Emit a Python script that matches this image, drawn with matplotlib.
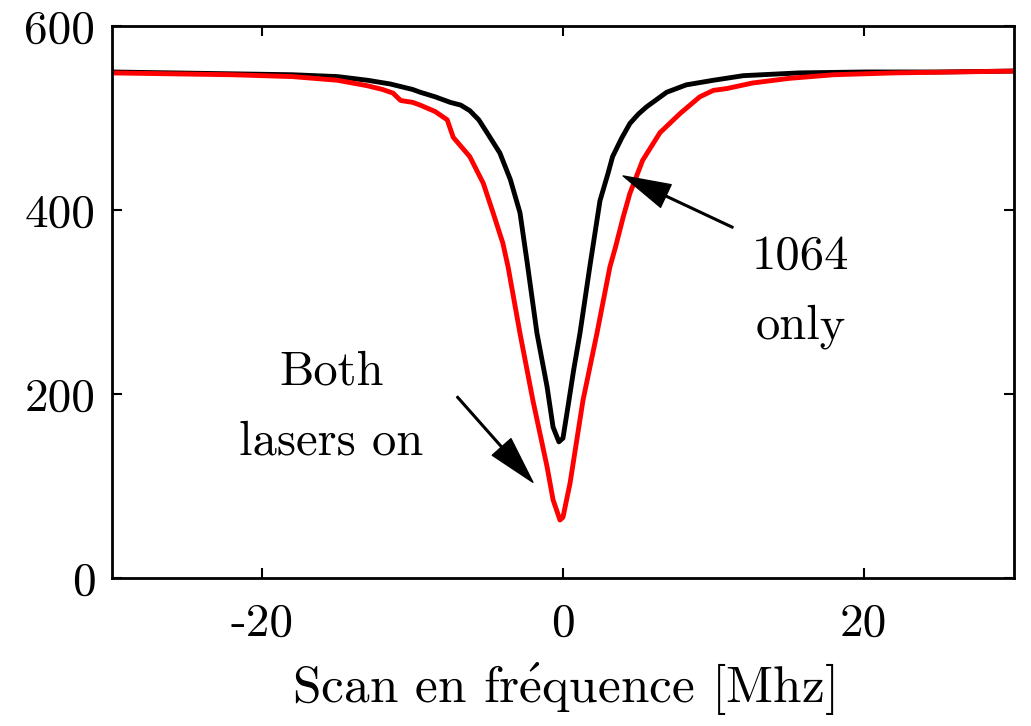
"""Résonance: scan en fréquence, 1064 seul vs deux lasers allumés."""
import matplotlib
matplotlib.use("Agg")
import matplotlib.pyplot as plt

plt.rcParams.update({"font.family": ["cmr10", "DejaVu Serif"], "axes.unicode_minus": False,
                     "mathtext.fontset": "cm"})

# valeurs (MHz, signal)
x_1064 = [-30, -26, -22, -18, -15, -13, -11.5, -10, -9.5, -8.5, -7.5, -6.8, -6.2, -5.6, -5.05,
          -4.2, -3.5, -2.86, -2.4, -1.73, -1.06, -0.66, -0.27, 0.0, 0.33, 0.7, 1.13, 1.8, 2.46,
          3.0, 3.3, 3.9, 4.45, 5.0, 5.55, 6.9, 8.2, 10, 12, 15.7, 20, 25, 30]
y_1064 = [550, 549, 548, 547, 545, 541, 537, 531, 528, 523, 517, 514, 508, 498, 484,
          462, 433, 397, 345, 266, 208, 164, 148, 152, 186, 225, 266, 340, 410,
          440, 458, 478, 494, 504, 512, 528, 536, 541, 546, 549, 550, 550, 551]
x_both = [-30, -26, -22, -18, -15, -13, -12, -11.3, -10.8, -10, -9.5, -8.5, -7.7, -7.3, -6.2,
          -5.3, -4.65, -4.0, -3.65, -2.86, -2.0, -1.06, -0.66, -0.2, 0.0, 0.47, 1.33, 2.26,
          3.12, 3.5, 4.0, 4.45, 5.3, 6.45, 7.8, 9.1, 10, 10.9, 12.6, 15, 18, 22, 26, 30]
y_both = [549, 548, 547, 545, 541, 535, 531, 527, 519, 517, 514, 507, 498, 479, 458,
          429, 397, 364, 338, 266, 193, 121, 85, 63, 66, 103, 193, 266,
          338, 360, 392, 418, 454, 484, 505, 523, 530, 532, 538, 543, 547, 549, 550, 551]
xticks = [-20, 0, 20]
yticks = [0, 200, 400, 600]

fig = plt.figure(figsize=(10.31, 7.26), dpi=100)
ax = fig.add_axes([0.1086, 0.2039, 0.8749, 0.7603])
ax.plot(x_1064, y_1064, color="black", lw=3.5)
ax.plot(x_both, y_both, color="red", lw=3.5)
ax.set_xlim(-30, 30); ax.set_ylim(0, 600)
ax.set_xticks(xticks); ax.set_xticklabels([str(t) for t in xticks])
ax.set_yticks(yticks); ax.set_yticklabels([str(t) for t in yticks])
ax.tick_params(direction="in", length=7, width=1.5, labelsize=34, top=True, right=True, pad=12)
ax.tick_params(axis="x", pad=18)
for s in ax.spines.values():
    s.set_linewidth(2)
ax.set_xlabel(r"Scan en fr$\mathrm{\acute{e}}$quence [Mhz]", fontsize=37, labelpad=12)

arrow = dict(facecolor="black", edgecolor="black", width=1.2, headwidth=18, headlength=34, shrink=0)
ax.annotate("", xy=(-2.0, 104), xytext=(-7.04, 197), arrowprops=arrow)
ax.annotate("", xy=(4.0, 437), xytext=(11.3, 381), arrowprops=arrow)
ax.text(-15.4, 185, "Both\nlasers on", fontsize=35, ha="center", va="center", linespacing=1.75)
ax.text(15.8, 311, "1064\nonly", fontsize=35, ha="center", va="center", linespacing=1.75)

fig.savefig("out.png")
